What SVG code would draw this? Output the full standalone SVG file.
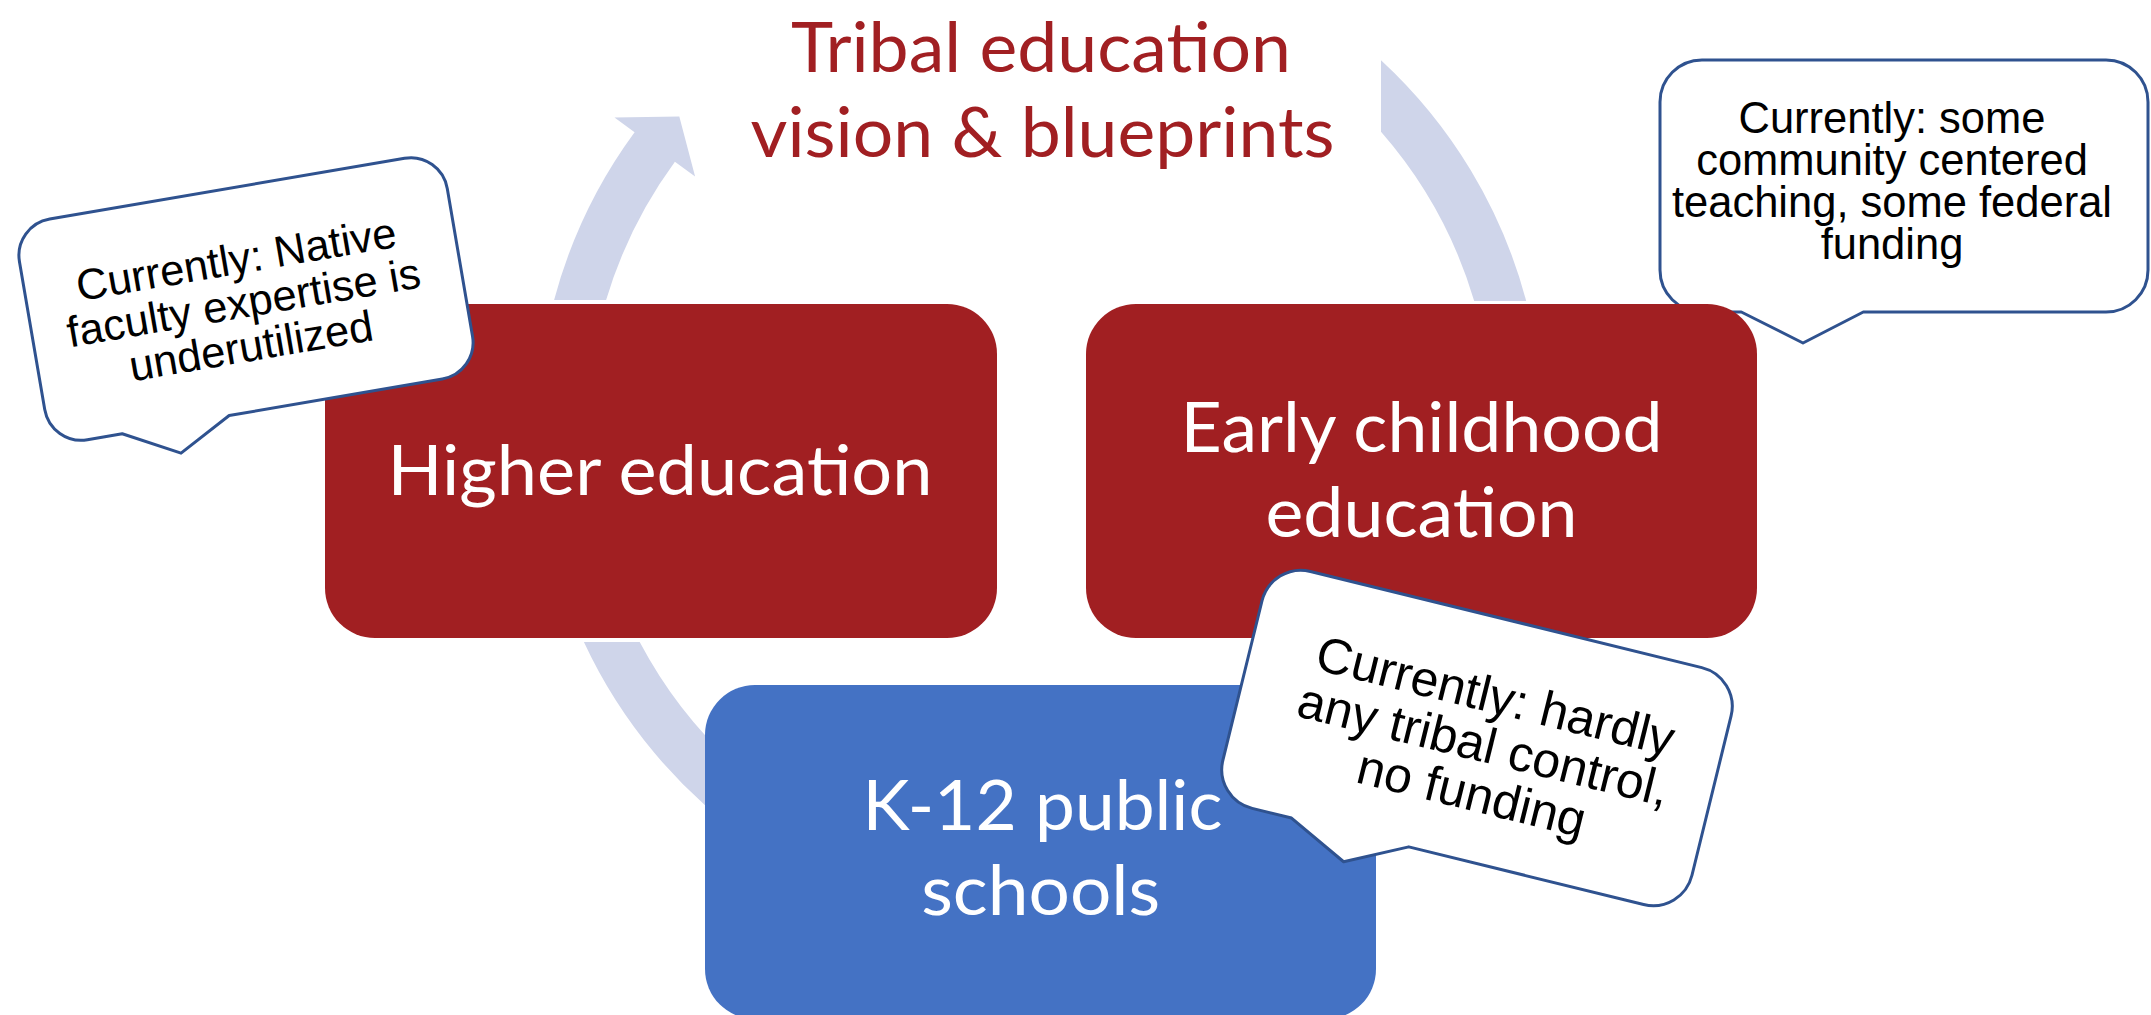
<svg xmlns="http://www.w3.org/2000/svg" width="2151" height="1015" viewBox="0 0 2151 1015">
  <defs>
    <style>
      .ring { fill: #CFD5EA; }
      .box-red { fill: #A11F22; }
      .box-blue { fill: #4472C4; }
      .label { font-family: Lato, "Open Sans", "Liberation Sans", sans-serif; font-size: 70px; text-anchor: middle; fill: #ffffff; }
      .title { fill: #A11F22; }
      .bubble { fill: #ffffff; stroke: #2F528F; stroke-width: 3; stroke-linejoin: round; }
      .note { font-family: "Liberation Sans", Arial, sans-serif; font-size: 43.5px; text-anchor: middle; fill: #000000; }
    </style>
  </defs>

  <rect width="2151" height="1015" fill="#ffffff"/>

  <!-- cycle arcs: ring segments of a circle centred at (1040,430), r 453..503 -->
  <g id="connectors">
    <path class="ring" d="M 554.1,300 A 503 503 0 0 1 634.6,132.2 L 614.5,117.4 L 679.3,116.4 L 695.1,176.6 L 674.9,161.8 A 453 453 0 0 0 606.1,300 Z"/>
    <path class="ring" d="M 1381,60.2 A 503 503 0 0 1 1526.2,301 L 1474.2,301 A 453 453 0 0 0 1381,131.8 Z"/>
    <path class="ring" d="M 583.9,642 A 503 503 0 0 0 751.5,842 L 780.2,801.1 A 453 453 0 0 1 639.7,642 Z"/>
  </g>

  <g id="title">
    <text class="label title" x="1041" y="72" textLength="500" lengthAdjust="spacingAndGlyphs">Tribal education</text>
    <text class="label title" x="1042.5" y="157" textLength="584" lengthAdjust="spacingAndGlyphs">vision &amp; blueprints</text>
  </g>

  <!-- note for early childhood sits behind its box -->
  <g id="note-early-childhood">
    <path class="bubble" d="M 1702,60 H 2106 A 42 42 0 0 1 2148,102 V 270 A 42 42 0 0 1 2106,312 H 1863.3 L 1803,343 L 1741.3,312 H 1702 A 42 42 0 0 1 1660,270 V 102 A 42 42 0 0 1 1702,60 Z"/>
    <text class="note" x="1892" y="133">Currently: some</text>
    <text class="note" x="1892" y="175">community centered</text>
    <text class="note" x="1892" y="217">teaching, some federal</text>
    <text class="note" x="1892" y="259">funding</text>
  </g>

  <g id="higher-education">
    <rect class="box-red" x="325" y="304" width="672" height="334" rx="50" ry="50"/>
    <text class="label" x="660" y="495" textLength="545" lengthAdjust="spacingAndGlyphs">Higher education</text>
  </g>

  <g id="early-childhood">
    <rect class="box-red" x="1086" y="304" width="671" height="334" rx="50" ry="50"/>
    <text class="label" x="1421.5" y="452" textLength="482" lengthAdjust="spacingAndGlyphs">Early childhood</text>
    <text class="label" x="1421.5" y="537" textLength="312" lengthAdjust="spacingAndGlyphs">education</text>
  </g>

  <g id="k12-public-schools">
    <rect class="box-blue" x="705" y="685" width="671" height="334" rx="50" ry="50"/>
    <text class="label" x="1042.5" y="830" textLength="360" lengthAdjust="spacingAndGlyphs">K-12 public</text>
    <text class="label" x="1040.7" y="915" textLength="239" lengthAdjust="spacingAndGlyphs">schools</text>
  </g>

  <g id="note-higher-education" transform="translate(246,299) rotate(-9.7)">
    <path class="bubble" d="M -180,-112 H 180 A 37 37 0 0 1 217,-75 V 75 A 37 37 0 0 1 180,112 H -36.2 L -90,141 L -144.7,112 H -180 A 37 37 0 0 1 -217,75 V -75 A 37 37 0 0 1 -180,-112 Z"/>
    <text class="note" x="-3" y="-26">Currently: Native</text>
    <text class="note" x="-3" y="18">faculty expertise is</text>
    <text class="note" x="-3" y="62">underutilized</text>
  </g>

  <g id="note-k12" transform="translate(1477,738) rotate(13.8)">
    <path class="bubble" d="M -201.5,-122 H 201.5 A 40 40 0 0 1 241.5,-82 V 82 A 40 40 0 0 1 201.5,122 H -40.3 L -100,152 L -161,122 H -201.5 A 40 40 0 0 1 -241.5,82 V -82 A 40 40 0 0 1 -201.5,-122 Z"/>
    <text class="note" x="8" y="-28" style="font-size:50px">Currently: hardly</text>
    <text class="note" x="8" y="22" style="font-size:50px">any tribal control,</text>
    <text class="note" x="8" y="72" style="font-size:50px">no funding</text>
  </g>
</svg>
